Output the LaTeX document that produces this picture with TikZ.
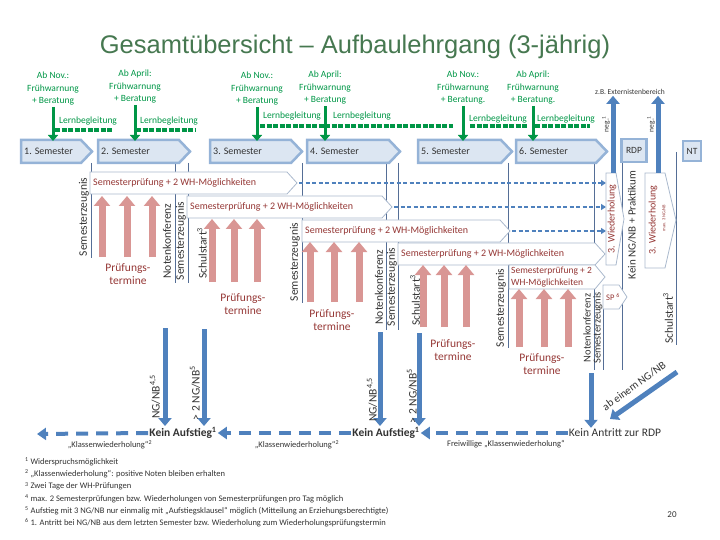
\documentclass[tikz,border=0pt]{standalone}
\usepackage{fontspec}
\setmainfont{Carlito}
\newfontfamily\titlefont{Liberation Sans}
\usetikzlibrary{arrows.meta}

\definecolor{titlegreen}{RGB}{70,120,80}
\definecolor{grn}{RGB}{0,150,70}
\definecolor{semfill}{RGB}{220,230,242}
\definecolor{semdraw}{RGB}{149,179,215}
\definecolor{ablue}{RGB}{79,129,189}
\definecolor{pinkc}{RGB}{217,150,148}
\definecolor{darkred}{RGB}{149,55,53}
\definecolor{boxgray}{RGB}{170,185,205}
\definecolor{linegray}{RGB}{85,110,150}
\definecolor{txtgray}{RGB}{50,50,50}

\newcommand\fsz[2]{\fontsize{#1}{#2}\selectfont}

\tikzset{
  semchev/.style={fill=semfill, draw=semdraw, line width=2.5pt},
  semtext/.style={anchor=west, inner sep=0pt, font=\fsz{10}{12}, text=txtgray},
  greentext/.style={align=center, text=grn, font=\fsz{9.5}{12.5}, inner sep=1pt},
  lerntext/.style={text=grn, font=\fsz{9.5}{11}, inner sep=0pt},
  grnarrow/.style={draw=grn, line width=3pt, -{Triangle[length=6pt,width=10pt]}},
  grndots/.style={draw=grn, line width=3.5pt, dash pattern=on 5pt off 1.5pt},
  spbox/.style={fill=white, draw=boxgray, line width=0.8pt},
  sptext/.style={anchor=west, inner sep=0pt, text=darkred, font=\fsz{10}{11}},
  pinkarrow/.style={draw=pinkc, line width=7pt, -{Triangle[length=10pt,width=16pt]}},
  ptermine/.style={align=center, text=darkred, font=\fsz{11.5}{13.5}, inner sep=0pt},
  rotlabel/.style={rotate=90, text=txtgray, font=\fsz{11.5}{13}, inner sep=0pt},
  sepline/.style={draw=linegray, line width=0.8pt},
  bluedash/.style={draw=ablue, line width=1.8pt, dash pattern=on 4pt off 2.5pt, -{Triangle[length=5pt,width=6pt]}},
  bluearrow/.style={draw=ablue, line width=5pt, -{Triangle[length=8pt,width=13pt]}},
  bluedashthick/.style={draw=ablue, line width=4pt, dash pattern=on 12pt off 8pt, -{Triangle[length=9pt,width=12pt]}},
  kein/.style={font=\fsz{11.5}{13}\bfseries, text=txtgray, inner sep=1pt},
  klw/.style={font=\fsz{8.5}{10}, text=txtgray, inner sep=0pt},
  note/.style={font=\fsz{8.5}{12.2}, text=txtgray, inner sep=0pt}
}

\begin{document}
\begin{tikzpicture}[x=1pt, y=-1pt]
  \useasboundingbox (0,0) rectangle (720,540);

  \node[font=\titlefont\fsz{25.5}{28}, text=titlegreen] (title) at (355,47) {Gesamtübersicht – Aufbaulehrgang (3-jährig)};

  % thin separators
  \draw[sepline] (91,163) -- (91,258);
  \draw[sepline] (175,163) -- (175,283);
  \draw[sepline] (188,163) -- (188,283);
  \draw[sepline] (302,163) -- (302,303);
  \draw[sepline] (386,163) -- (386,330);
  \draw[sepline] (398,163) -- (398,330);
  \draw[sepline] (508,163) -- (508,348);
  \draw[sepline] (594,163) -- (594,370);
  \draw[sepline] (603,309) -- (603,370);
  \draw[sepline] (622,163) -- (622,370);
  \draw[sepline] (676,152) -- (676,345);

  % semesters
  \foreach \n/\xa/\xb in {1/21/92, 2/98/190, 3/210/302, 4/307/400, 5/418/512, 6/516/607}{
    \draw[semchev] (\xa,140) -- (\xb-11,140) -- (\xb,151.5) -- (\xb-11,163) -- (\xa,163) -- cycle;
    \node[semtext] (sem\n) at (\xa+3,151.5) {\n. Semester};
  }
  \node[semchev, minimum width=25pt, minimum height=23pt, inner sep=0pt, font=\fsz{9.5}{11}, text=txtgray] (rdp) at (634,150.5) {RDP};
  \node[semchev, minimum width=18pt, minimum height=20pt, inner sep=0pt, font=\fsz{9.5}{11}, text=txtgray] (nt) at (692,151) {NT};

  % Fruehwarnung
  \coordinate (semtop) at (0,141);
  \node[greentext] (fw1) at (53,89) {Ab Nov.:\\Frühwarnung\\+ Beratung};
  \node[greentext] (fw2) at (135,87) {Ab April:\\Frühwarnung\\+ Beratung};
  \node[greentext] (fw3) at (257,89) {Ab Nov.:\\Frühwarnung\\+ Beratung};
  \node[greentext] (fw4) at (325,88) {Ab April:\\Frühwarnung\\+ Beratung};
  \node[greentext] (fw5) at (463,88) {Ab Nov.:\\Frühwarnung\\+ Beratung.};
  \node[greentext] (fw6) at (533,88) {Ab April:\\Frühwarnung\\+ Beratung.};
  \foreach \n in {1,...,6}
    \draw[grnarrow] (fw\n.south) -- (fw\n.south |- semtop);

  \node[lerntext] (lb1) at (88,121) {Lernbegleitung};
  \node[lerntext] (lb2) at (169,121) {Lernbegleitung};
  \node[lerntext] (lb3) at (292,116) {Lernbegleitung};
  \node[lerntext] (lb4) at (362,116) {Lernbegleitung};
  \node[lerntext] (lb5) at (498,119) {Lernbegleitung};
  \node[lerntext] (lb6) at (566,119) {Lernbegleitung};
  \draw[grndots] (55,130) -- (113,130);
  \draw[grndots] (136,130) -- (195,130);
  \draw[grndots] (260,126) -- (453,126);
  \draw[grndots] (470,126) -- (527,126);
  \draw[grndots] (535,126) -- (590,126);

  % Semesterpruefungen
  \foreach \n/\xa/\xt/\ya in {1/90/297/172, 2/187/392/196, 3/302/510/220, 4/398/605/243}{
    \draw[spbox] (\xa,\ya) -- (\xt-10,\ya) -- (\xt,\ya+11) -- (\xt-10,\ya+22) -- (\xa,\ya+22) -- cycle;
    \node[sptext] (sp\n) at (\xa+3,\ya+11) {Semesterprüfung + 2 WH-Möglichkeiten};
  }
  \draw[spbox] (509,265) -- (595,265) -- (605,277) -- (595,289) -- (509,289) -- cycle;
  \node[sptext, align=left, font=\fsz{9.5}{11.5}] (sp5) at (511,277) {Semesterprüfung + 2\\WH-Möglichkeiten};
  \draw[spbox] (603,285) -- (619,285) -- (627,297) -- (619,309) -- (603,309) -- cycle;
  \node[sptext, font=\fsz{8.5}{10}] (sp6) at (606,297) {SP \textsuperscript{6}};

  \coordinate (t1) at (299,183);
  \coordinate (t2) at (394,207);
  \coordinate (t3) at (512,231);
  \coordinate (whl) at (606,0);
  \foreach \n in {1,2,3}
    \draw[bluedash] (t\n) -- (t\n -| whl);

  % 3. Wiederholung
  \draw[spbox] (606,173) -- (616,173) -- (624,219) -- (616,265) -- (606,265) -- cycle;
  \node[rotlabel, text=darkred, font=\fsz{10}{11}] (wh1) at (612,219) {3. Wiederholung};
  \draw[spbox] (645,173) -- (665,173) -- (676,220) -- (665,268) -- (645,268) -- cycle;
  \node[rotlabel, text=darkred, font=\fsz{10}{11}] (wh2) at (653,220) {3. Wiederholung};
  \node[rotlabel, text=darkred, font=\fsz{4.5}{5}] (wh2max) at (664,218) {max. 3 NG/NB};

  \node[font=\fsz{7.5}{8}, text=txtgray, inner sep=1pt] (extern) at (630,92) {z.B. Externistenbereich};
  \coordinate (n1) at (613,173);
  \coordinate (n2) at (658,173);
  \draw[bluearrow] (n1) -- (n1 |- extern.south);
  \draw[bluearrow] (n2) -- (n2 |- extern.south);
  \node[rotlabel, font=\fsz{7.5}{8}] (neg1) at (606,124) {neg.\textsuperscript{1}};
  \node[rotlabel, font=\fsz{7.5}{8}] (neg2) at (651,124) {neg.\textsuperscript{1}};

  % rotated labels
  \node[rotlabel] (z1) at (84,217) {Semesterzeugnis};
  \node[rotlabel] (nk2) at (167,241) {Notenkonferenz};
  \node[rotlabel] (z2) at (181,241) {Semesterzeugnis};
  \node[rotlabel] (ss2) at (202,253) {Schulstart\textsuperscript{3}};
  \node[rotlabel] (z3) at (295,262) {Semesterzeugnis};
  \node[rotlabel] (nk4) at (379,287) {Notenkonferenz};
  \node[rotlabel] (z4) at (392,287) {Semesterzeugnis};
  \node[rotlabel] (ss4) at (415,300) {Schulstart\textsuperscript{3}};
  \node[rotlabel] (z5) at (501,308) {Semesterzeugnis};
  \node[rotlabel, font=\fsz{10.5}{12}] (nk6) at (587,328) {Notenkonferenz};
  \node[rotlabel, font=\fsz{10.5}{12}] (z6) at (598,328) {Semesterzeugnis};
  \node[rotlabel] (ss6) at (668,318) {Schulstart\textsuperscript{3}};
  \node[rotlabel, font=\fsz{11}{12}] (kp) at (632,225) {Kein NG/NB + Praktikum};

  % Pruefungstermine
  \foreach \g/\xa/\xb/\xc/\yt/\yb in {1/102/127/152/196/257, 2/212/234/257/219/282, 3/310/334/359/242/302, 4/423/444/466/265/327, 5/519/544/568/289/347}{
    \foreach \x [count=\i] in {\xa,\xb,\xc}{
      \coordinate (pb\g\i) at (\x,\yb);
      \coordinate (pt\g\i) at (\x,\yt);
      \draw[pinkarrow] (pb\g\i) -- (pt\g\i);
    }
  }
  \node[ptermine] (term1) at (128,274) {Prüfungs-\\termine};
  \node[ptermine] (term2) at (243,304) {Prüfungs-\\termine};
  \node[ptermine] (term3) at (332,320) {Prüfungs-\\termine};
  \node[ptermine] (term4) at (453,350) {Prüfungs-\\termine};
  \node[ptermine] (term5) at (542,364) {Prüfungs-\\termine};

  % Kein Aufstieg
  \node[kein] (ka2) at (183,433) {Kein Aufstieg\textsuperscript{1}};
  \node[kein] (ka4) at (386,433) {Kein Aufstieg\textsuperscript{1}};
  \node[kein, font=\fsz{11.5}{13}] (kr) at (615,433) {Kein Antritt zur RDP};

  \coordinate (b2a) at (165,328);
  \coordinate (b2b) at (204,329);
  \coordinate (b4a) at (380,332);
  \coordinate (b4b) at (419,333);
  \coordinate (b6a) at (591,373);
  \coordinate (b6b) at (677,372);
  \coordinate (b6c) at (610,419);
  \draw[bluearrow] (b2a) -- (b2a |- ka2.north);
  \draw[bluearrow] (b2b) -- (b2b |- ka2.north);
  \draw[bluearrow] (b4a) -- (b4a |- ka4.north);
  \draw[bluearrow] (b4b) -- (b4b |- ka4.north);
  \draw[bluearrow] (b6a) -- (b6a |- kr.north);
  \draw[bluearrow] (b6b) -- (b6c);

  \node[rotlabel] (ng2) at (155,397) {NG/NB\textsuperscript{4,5}};
  \node[rotlabel] (gt2) at (195,393) {> 2 NG/NB\textsuperscript{5}};
  \node[rotlabel] (ng4) at (372,400) {NG/NB\textsuperscript{4,5}};
  \node[rotlabel] (gt4) at (412,396) {> 2 NG/NB\textsuperscript{5}};
  \node[text=txtgray, font=\fsz{11}{12}, rotate=36, inner sep=0pt] (abng) at (634,386) {ab einem NG/NB};

  \coordinate (kl) at (37,434);
  \draw[bluedashthick] (ka2.west) -- (kl);
  \draw[bluedashthick] (ka4.west) -- (ka2.east);
  \draw[bluedashthick] (kr.west) -- (ka4.east);
  \node[klw] (klw1) at (110,445) {„Klassenwiederholung“\textsuperscript{2}};
  \node[klw] (klw2) at (297,445) {„Klassenwiederholung“\textsuperscript{2}};
  \node[klw] (klw3) at (506,444) {Freiwillige „Klassenwiederholung“};

  % footnotes
  \node[note, anchor=west, align=left] (notes) at (25,492.5) {%
    \textsuperscript{1} Widerspruchsmöglichkeit\\
    \textsuperscript{2} „Klassenwiederholung“: positive Noten bleiben erhalten\\
    \textsuperscript{3} Zwei Tage der WH-Prüfungen\\
    \textsuperscript{4} max. 2 Semesterprüfungen bzw. Wiederholungen von Semesterprüfungen pro Tag möglich\\
    \textsuperscript{5} Aufstieg mit 3 NG/NB nur einmalig mit „Aufstiegsklausel“ möglich (Mitteilung an Erziehungsberechtigte)\\
    \textsuperscript{6} 1. Antritt bei NG/NB aus dem letzten Semester bzw. Wiederholung zum Wiederholungsprüfungstermin};
  \node[font=\fsz{9}{10}, text=txtgray] (pnum) at (672,515) {20};
\end{tikzpicture}
\end{document}
